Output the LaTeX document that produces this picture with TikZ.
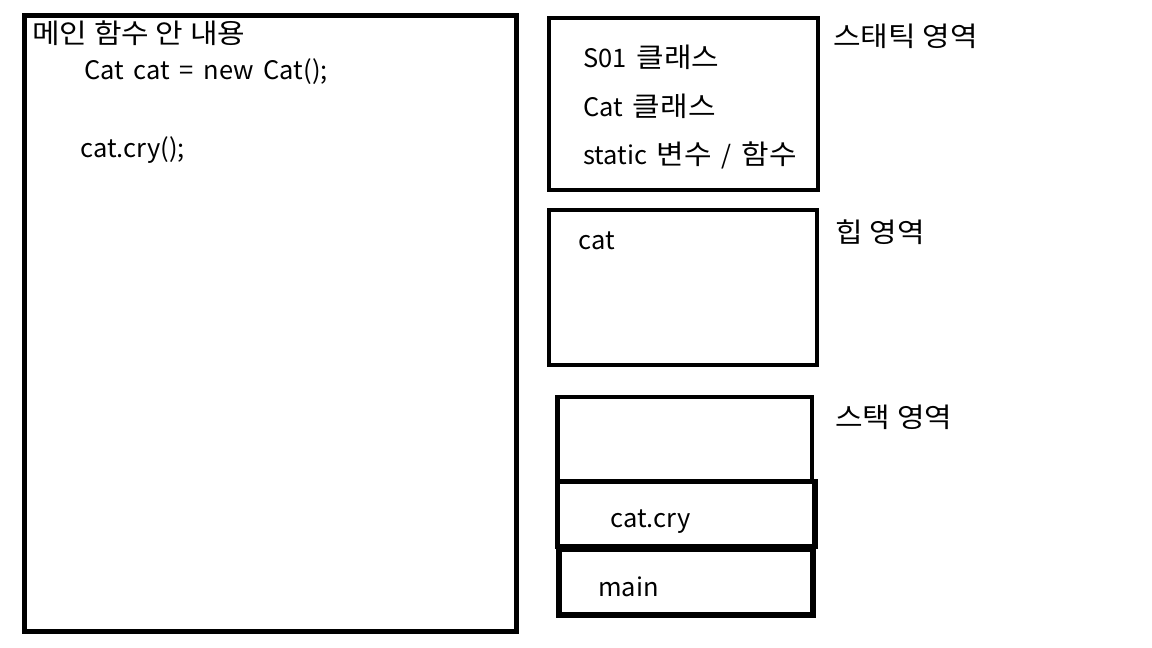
\documentclass[tikz,border=0pt]{standalone}
\usepackage{fontspec}
\setmainfont[WordSpace=1.7]{Noto Sans CJK KR}
\newfontfamily\kr[FakeStretch=1.1]{Noto Sans CJK KR}
\newcommand{\ko}[1]{{\kr\fontsize{15.5}{18}\selectfont #1}}
\begin{document}
\begin{tikzpicture}[x=0.02cm,y=-0.02cm,
  box/.style={draw=black,line width=2.4pt},
  thickbox/.style={draw=black,line width=2.9pt},
  txt/.style={anchor=base west,inner sep=0pt,font=\fontsize{14.5}{18}\selectfont}]
\useasboundingbox[fill=white] (0,0) rectangle (1152,648);
% main function box
\draw[thickbox] (24.5,15.5) rectangle (516.5,631.5);
\node[txt] (t1) at (32,44) {\ko{메인 함수 안 내용}};
\node[txt] (t2) at (84,80) {Cat cat = new Cat();};
\node[txt] (t3) at (80,158) {cat.cry();};
% static area
\draw[box] (549,18) rectangle (818,190);
\node[txt] (s1) at (583,68) {S01 \ko{클래스}};
\node[txt] (s2) at (583,117) {Cat \ko{클래스}};
\node[txt] (s3) at (583,165) {static \ko{변수} / \ko{함수}};
\node[txt] (sl) at (833,47) {\ko{스태틱 영역}};
% heap area
\draw[box] (549,210) rectangle (817,365);
\node[txt] (h1) at (578,250) {cat};
\node[txt] (hl) at (835,243) {\ko{힙 영역}};
% stack area
\draw[box] (557.5,397) rectangle (812,481.5);
\draw[thickbox] (557.5,481.5) rectangle (815,546.5);
\draw[thickbox] (559,549) rectangle (813,615);
\node[txt] (k1) at (610,527) {cat.cry};
\node[txt] (k2) at (598,596) {main};
\node[txt] (kl) at (835,427) {\ko{스택 영역}};
\end{tikzpicture}
\end{document}
